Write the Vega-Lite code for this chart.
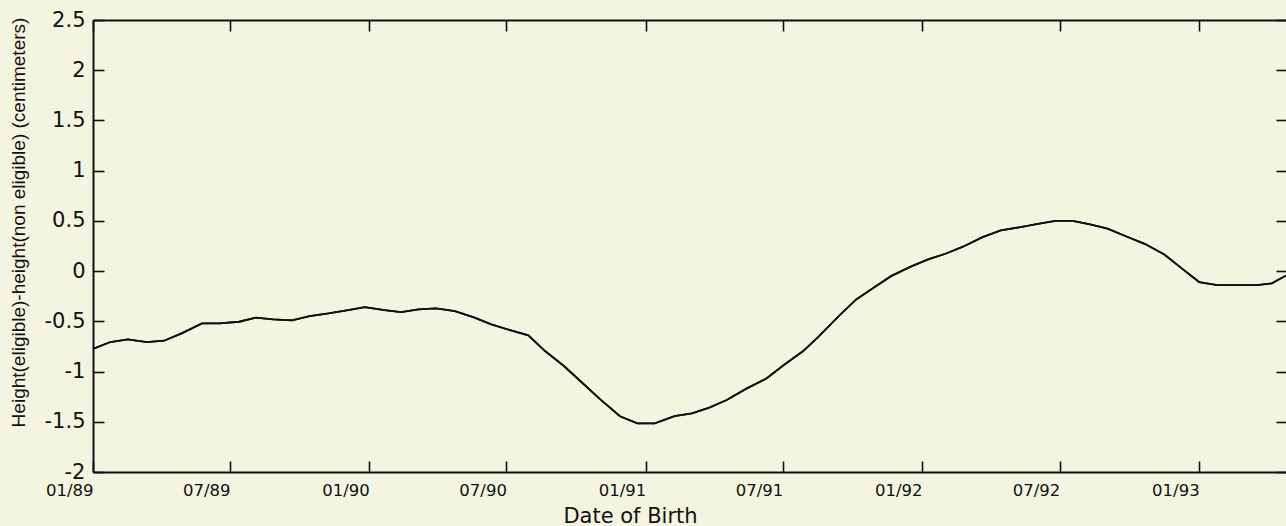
{
  "$schema": "https://vega.github.io/schema/vega-lite/v6.json",
  "autosize": {"type": "none"},
  "padding": {"left": 93, "top": 20, "right": 0, "bottom": 54},
  "width": 1194,
  "height": 452,
  "background": "#f3f5e0",
  "config": {
    "view": {"stroke": null},
    "axis": {
      "grid": false,
      "domainColor": "#111111",
      "domainWidth": 2,
      "tickColor": "#111111",
      "tickWidth": 1.6,
      "tickSize": -11,
      "labelColor": "#111111",
      "titleColor": "#111111",
      "labelFont": "DejaVu Sans",
      "titleFont": "DejaVu Sans",
      "titleFontWeight": "normal"
    }
  },
  "data": {
    "values": [
      {"date": "1989-01-01", "diff": -0.775},
      {"date": "1989-01-24", "diff": -0.706},
      {"date": "1989-02-16", "diff": -0.680},
      {"date": "1989-03-13", "diff": -0.706},
      {"date": "1989-04-05", "diff": -0.693},
      {"date": "1989-04-28", "diff": -0.620},
      {"date": "1989-05-25", "diff": -0.520},
      {"date": "1989-06-17", "diff": -0.520},
      {"date": "1989-07-13", "diff": -0.504},
      {"date": "1989-08-04", "diff": -0.464},
      {"date": "1989-08-27", "diff": -0.481},
      {"date": "1989-09-21", "diff": -0.491},
      {"date": "1989-10-14", "diff": -0.448},
      {"date": "1989-11-08", "diff": -0.421},
      {"date": "1989-12-04", "diff": -0.388},
      {"date": "1989-12-26", "diff": -0.358},
      {"date": "1990-01-21", "diff": -0.388},
      {"date": "1990-02-12", "diff": -0.408},
      {"date": "1990-03-07", "diff": -0.381},
      {"date": "1990-03-30", "diff": -0.371},
      {"date": "1990-04-24", "diff": -0.398},
      {"date": "1990-05-20", "diff": -0.464},
      {"date": "1990-06-11", "diff": -0.530},
      {"date": "1990-07-07", "diff": -0.590},
      {"date": "1990-07-30", "diff": -0.640},
      {"date": "1990-08-21", "diff": -0.796},
      {"date": "1990-09-15", "diff": -0.945},
      {"date": "1990-10-08", "diff": -1.104},
      {"date": "1990-11-02", "diff": -1.277},
      {"date": "1990-11-28", "diff": -1.445},
      {"date": "1990-12-21", "diff": -1.515},
      {"date": "1991-01-13", "diff": -1.515},
      {"date": "1991-02-08", "diff": -1.443},
      {"date": "1991-03-03", "diff": -1.416},
      {"date": "1991-03-26", "diff": -1.359},
      {"date": "1991-04-18", "diff": -1.283},
      {"date": "1991-05-14", "diff": -1.170},
      {"date": "1991-06-09", "diff": -1.071},
      {"date": "1991-07-02", "diff": -0.938},
      {"date": "1991-07-28", "diff": -0.796},
      {"date": "1991-08-18", "diff": -0.647},
      {"date": "1991-09-13", "diff": -0.448},
      {"date": "1991-10-06", "diff": -0.282},
      {"date": "1991-10-29", "diff": -0.165},
      {"date": "1991-11-21", "diff": -0.050},
      {"date": "1991-12-17", "diff": 0.044},
      {"date": "1992-01-09", "diff": 0.116},
      {"date": "1992-02-01", "diff": 0.173},
      {"date": "1992-02-24", "diff": 0.243},
      {"date": "1992-03-21", "diff": 0.338},
      {"date": "1992-04-14", "diff": 0.405},
      {"date": "1992-05-10", "diff": 0.438},
      {"date": "1992-06-02", "diff": 0.471},
      {"date": "1992-06-25", "diff": 0.501},
      {"date": "1992-07-18", "diff": 0.501},
      {"date": "1992-08-10", "diff": 0.465},
      {"date": "1992-09-02", "diff": 0.422},
      {"date": "1992-10-01", "diff": 0.332},
      {"date": "1992-10-21", "diff": 0.272},
      {"date": "1992-11-16", "diff": 0.166},
      {"date": "1992-12-09", "diff": 0.027},
      {"date": "1993-01-01", "diff": -0.109},
      {"date": "1993-01-25", "diff": -0.139},
      {"date": "1993-02-20", "diff": -0.139},
      {"date": "1993-03-18", "diff": -0.139},
      {"date": "1993-04-07", "diff": -0.122},
      {"date": "1993-04-26", "diff": -0.043}
    ]
  },
  "layer": [
    {
      "mark": {"type": "line", "color": "#111111", "strokeWidth": 1.8},
      "encoding": {
        "x": {
          "field": "date",
          "type": "temporal",
          "scale": {
            "type": "utc",
            "domain": [
              {"year": 1989, "month": 1, "date": 1, "utc": true},
              {"year": 1993, "month": 4, "date": 27, "utc": true}
            ],
            "nice": false
          },
          "axis": {
            "orient": "bottom",
            "values": [
              {"year": 1989, "month": 1, "date": 1, "utc": true},
              {"year": 1989, "month": 7, "date": 1, "utc": true},
              {"year": 1990, "month": 1, "date": 1, "utc": true},
              {"year": 1990, "month": 7, "date": 1, "utc": true},
              {"year": 1991, "month": 1, "date": 1, "utc": true},
              {"year": 1991, "month": 7, "date": 1, "utc": true},
              {"year": 1992, "month": 1, "date": 1, "utc": true},
              {"year": 1992, "month": 7, "date": 1, "utc": true},
              {"year": 1993, "month": 1, "date": 1, "utc": true}
            ],
            "labelExpr": "utcFormat(datum.value, '%m/%y')",
            "labelAlign": "right",
            "labelDx": 6,
            "labelBaseline": "top",
            "labelPadding": 21,
            "labelFontSize": 16.5,
            "labelFlush": false,
            "labelOverlap": false,
            "title": "Date of Birth",
            "titleFontSize": 21,
            "titleX": 537,
            "titleY": 50,
            "titleAlign": "center",
            "titleBaseline": "alphabetic"
          }
        },
        "y": {
          "field": "diff",
          "type": "quantitative",
          "scale": {"domain": [-2, 2.5], "nice": false, "zero": false},
          "axis": {
            "orient": "left",
            "values": [-2, -1.5, -1, -0.5, 0, 0.5, 1, 1.5, 2, 2.5],
            "labelExpr": "'' + datum.value",
            "labelFontSize": 21,
            "labelPadding": 19,
            "labelFlush": false,
            "labelOverlap": false,
            "title": "Height(eligible)-height(non eligible) (centimeters)",
            "titleFont": "Liberation Sans",
            "titleFontSize": 19,
            "titleAngle": 270,
            "titleX": -75,
            "titleY": 202,
            "titleAlign": "center",
            "titleBaseline": "middle"
          }
        }
      }
    },
    {
      "mark": {"type": "line", "color": "#111111", "strokeWidth": 1.8},
      "encoding": {
        "x": {
          "field": "date",
          "type": "temporal",
          "scale": {
            "type": "utc",
            "domain": [
              {"year": 1989, "month": 1, "date": 1, "utc": true},
              {"year": 1993, "month": 4, "date": 27, "utc": true}
            ],
            "nice": false
          },
          "axis": {
            "orient": "top",
            "values": [
              {"year": 1989, "month": 1, "date": 1, "utc": true},
              {"year": 1989, "month": 7, "date": 1, "utc": true},
              {"year": 1990, "month": 1, "date": 1, "utc": true},
              {"year": 1990, "month": 7, "date": 1, "utc": true},
              {"year": 1991, "month": 1, "date": 1, "utc": true},
              {"year": 1991, "month": 7, "date": 1, "utc": true},
              {"year": 1992, "month": 1, "date": 1, "utc": true},
              {"year": 1992, "month": 7, "date": 1, "utc": true},
              {"year": 1993, "month": 1, "date": 1, "utc": true}
            ],
            "labels": false,
            "title": null
          }
        },
        "y": {
          "field": "diff",
          "type": "quantitative",
          "scale": {"domain": [-2, 2.5], "nice": false, "zero": false},
          "axis": {
            "orient": "right",
            "values": [-2, -1.5, -1, -0.5, 0, 0.5, 1, 1.5, 2, 2.5],
            "labels": false,
            "title": null
          }
        }
      }
    }
  ],
  "resolve": {"axis": {"x": "independent", "y": "independent"}}
}
